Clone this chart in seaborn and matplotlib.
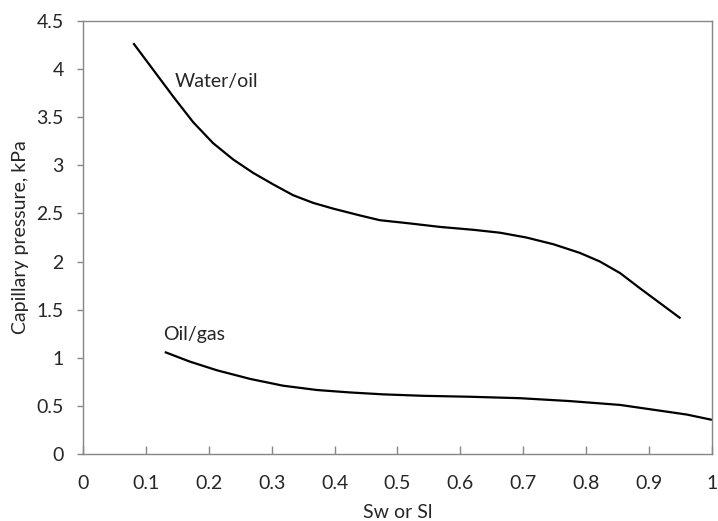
import matplotlib
matplotlib.use("Agg")
import matplotlib.pyplot as plt
import seaborn as sns
import pandas as pd

# Water/oil curve
wo_x = [0.080, 0.112, 0.144, 0.175, 0.207, 0.239, 0.271, 0.303, 0.334, 0.366, 0.398,
        0.440, 0.472, 0.515, 0.568, 0.621, 0.663, 0.705, 0.748, 0.790, 0.822, 0.854,
        0.886, 0.917, 0.950]
wo_y = [4.27, 3.99, 3.71, 3.45, 3.23, 3.06, 2.92, 2.80, 2.69, 2.61, 2.55,
        2.48, 2.43, 2.40, 2.36, 2.33, 2.30, 2.25, 2.18, 2.09, 2.00, 1.88,
        1.72, 1.57, 1.41]

# Oil/gas curve
og_x = [0.130, 0.170, 0.213, 0.266, 0.318, 0.372, 0.424, 0.477, 0.540, 0.615, 0.695,
        0.774, 0.854, 0.907, 0.960, 1.000]
og_y = [1.06, 0.96, 0.87, 0.78, 0.71, 0.665, 0.64, 0.62, 0.605, 0.595, 0.58,
        0.55, 0.51, 0.46, 0.41, 0.355]

x_ticks = [0, 0.1, 0.2, 0.3, 0.4, 0.5, 0.6, 0.7, 0.8, 0.9, 1]
y_ticks = [0, 0.5, 1, 1.5, 2, 2.5, 3, 3.5, 4, 4.5]

sns.set_style("white")
plt.rcParams['font.family'] = ['Lato', 'DejaVu Sans']

df = pd.concat([
    pd.DataFrame({"x": wo_x, "y": wo_y, "curve": "Water/oil"}),
    pd.DataFrame({"x": og_x, "y": og_y, "curve": "Oil/gas"}),
])

FS = 14

fig = plt.figure(figsize=(7.18, 5.21), dpi=100)
ax = fig.add_axes([0.1156, 0.1286, 0.876, 0.831])
sns.lineplot(data=df, x="x", y="y", units="curve", estimator=None, sort=False,
             color="black", linewidth=1.6, ax=ax, legend=False)
for ln in ax.lines:
    ln.set_solid_joinstyle("round")
    ln.set_solid_capstyle("butt")

ax.set_xlim(0, 1)
ax.set_ylim(0, 4.5)
ax.set_xticks(x_ticks)
ax.set_xticklabels([f"{t:g}" for t in x_ticks])
ax.set_yticks(y_ticks)
ax.set_yticklabels([f"{t:g}" for t in y_ticks])
ax.tick_params(axis="x", direction="in", length=6, width=1, color="#868686",
               labelsize=FS, pad=15, bottom=True)
ax.tick_params(axis="y", direction="out", length=4, width=1, color="#868686",
               labelsize=FS, pad=10, left=True)
for s in ax.spines.values():
    s.set_color("#868686")
    s.set_linewidth(1)
    s.set_visible(True)

ax.set_xlabel("Sw or Sl", fontsize=FS, labelpad=9)
ax.set_ylabel("Capillary pressure, kPa", fontsize=FS, labelpad=5)

ax.text(0.146, 3.87, "Water/oil", fontsize=FS, va="center", ha="left")
ax.text(0.127, 1.24, "Oil/gas", fontsize=FS, va="center", ha="left")

fig.savefig("out.png", dpi=100)
